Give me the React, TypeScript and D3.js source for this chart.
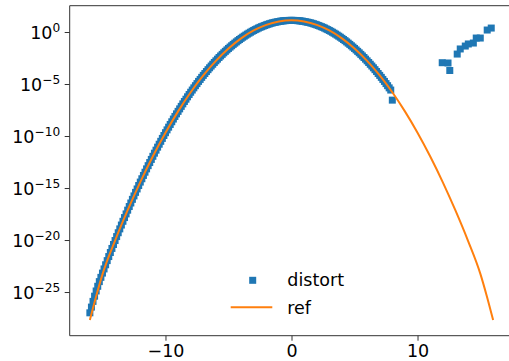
import React, { useEffect, useRef } from 'react';
import * as d3 from 'd3';

// sample positions of the "distort" squares (one row per unit of x), then the stray ones on the right
const distortX = [
  -16, -15.875, -15.75, -15.625, -15.5, -15.375, -15.25, -15.125,
  -15, -14.875, -14.75, -14.625, -14.5, -14.375, -14.25, -14.125,
  -14, -13.875, -13.75, -13.625, -13.5, -13.375, -13.25, -13.125,
  -13, -12.875, -12.75, -12.625, -12.5, -12.375, -12.25, -12.125,
  -12, -11.875, -11.75, -11.625, -11.5, -11.375, -11.25, -11.125,
  -11, -10.875, -10.75, -10.625, -10.5, -10.375, -10.25, -10.125,
  -10, -9.875, -9.75, -9.625, -9.5, -9.375, -9.25, -9.125,
  -9, -8.875, -8.75, -8.625, -8.5, -8.375, -8.25, -8.125,
  -8, -7.875, -7.75, -7.625, -7.5, -7.375, -7.25, -7.125,
  -7, -6.875, -6.75, -6.625, -6.5, -6.375, -6.25, -6.125,
  -6, -5.875, -5.75, -5.625, -5.5, -5.375, -5.25, -5.125,
  -5, -4.875, -4.75, -4.625, -4.5, -4.375, -4.25, -4.125,
  -4, -3.875, -3.75, -3.625, -3.5, -3.375, -3.25, -3.125,
  -3, -2.875, -2.75, -2.625, -2.5, -2.375, -2.25, -2.125,
  -2, -1.875, -1.75, -1.625, -1.5, -1.375, -1.25, -1.125,
  -1, -0.875, -0.75, -0.625, -0.5, -0.375, -0.25, -0.125,
  0, 0.125, 0.25, 0.375, 0.5, 0.625, 0.75, 0.875,
  1, 1.125, 1.25, 1.375, 1.5, 1.625, 1.75, 1.875,
  2, 2.125, 2.25, 2.375, 2.5, 2.625, 2.75, 2.875,
  3, 3.125, 3.25, 3.375, 3.5, 3.625, 3.75, 3.875,
  4, 4.125, 4.25, 4.375, 4.5, 4.625, 4.75, 4.875,
  5, 5.125, 5.25, 5.375, 5.5, 5.625, 5.75, 5.875,
  6, 6.125, 6.25, 6.375, 6.5, 6.625, 6.75, 6.875,
  7, 7.125, 7.25, 7.375, 7.5, 7.625, 7.75, 7.875,
  8, 11.96, 12.42, 12.56, 13.15, 13.39, 13.79, 14.03, 14.43, 14.66, 14.98, 15.53, 15.85
];
// log10 of the values
const distortLog = [
  -27.0, -26.45, -25.9, -25.4, -24.9, -24.45, -24.0, -23.59,
  -23.18, -22.78, -22.38, -21.98, -21.59, -21.2, -20.81, -20.43,
  -20.05, -19.67, -19.3, -18.93, -18.56, -18.2, -17.84, -17.49,
  -17.13, -16.78, -16.44, -16.09, -15.76, -15.42, -15.09, -14.76,
  -14.43, -14.11, -13.79, -13.48, -13.16, -12.85, -12.55, -12.25,
  -11.95, -11.65, -11.36, -11.07, -10.79, -10.51, -10.23, -9.95,
  -9.68, -9.41, -9.15, -8.89, -8.63, -8.37, -8.12, -7.87,
  -7.63, -7.39, -7.15, -6.91, -6.68, -6.46, -6.23, -6.01,
  -5.79, -5.58, -5.37, -5.16, -4.96, -4.75, -4.56, -4.36,
  -4.17, -3.99, -3.8, -3.62, -3.44, -3.27, -3.1, -2.93,
  -2.77, -2.61, -2.45, -2.3, -2.15, -2.0, -1.86, -1.72,
  -1.58, -1.45, -1.32, -1.19, -1.07, -0.95, -0.83, -0.72,
  -0.61, -0.5, -0.4, -0.3, -0.2, -0.11, -0.02, 0.07,
  0.15, 0.23, 0.3, 0.38, 0.45, 0.51, 0.57, 0.63,
  0.69, 0.74, 0.79, 0.84, 0.88, 0.92, 0.95, 0.98,
  1.01, 1.04, 1.06, 1.08, 1.09, 1.11, 1.11, 1.12,
  1.12, 1.12, 1.11, 1.11, 1.09, 1.08, 1.06, 1.04,
  1.01, 0.98, 0.95, 0.92, 0.88, 0.84, 0.79, 0.74,
  0.69, 0.63, 0.57, 0.51, 0.45, 0.38, 0.3, 0.23,
  0.15, 0.07, -0.02, -0.11, -0.2, -0.3, -0.4, -0.5,
  -0.61, -0.72, -0.83, -0.95, -1.07, -1.19, -1.32, -1.45,
  -1.58, -1.72, -1.86, -2.0, -2.15, -2.3, -2.45, -2.61,
  -2.77, -2.93, -3.1, -3.27, -3.44, -3.62, -3.8, -3.99,
  -4.17, -4.36, -4.56, -4.75, -4.96, -5.16, -5.37, -5.58,
  -6.55, -2.95, -2.98, -3.7, -2.12, -1.63, -1.35, -1.15, -1.06, -0.58, -0.58, 0.19, 0.38
];

const refX = [-16, -15.5, -15, -14, -13, -12, -11, -10, -9, -8, -7, -6, -5, -4, -3, -2, -1,
  0, 1, 2, 3, 4, 5, 6, 7, 8, 9, 10, 11, 12, 13, 14, 15, 15.5, 16];
const refLog = [-27.7, -25.4, -23.3, -20.05, -17.13, -14.43, -11.95, -9.68, -7.63, -5.79, -4.17, -2.77, -1.58, -0.61, 0.15, 0.69, 1.01,
  1.12, 1.01, 0.69, 0.15, -0.61, -1.58, -2.77, -4.17, -5.79, -7.63, -9.68, -11.95, -14.43, -17.13, -20.05, -23.3, -25.4, -27.7];

const xTicks = [-10, 0, 10];
const yTickExp = [-25, -20, -15, -10, -5, 0];
const legendLabels = ['distort', 'ref'];

const blue = '#1f77b4';
const orange = '#ff7f0e';
const font = 'DejaVu Sans, sans-serif';

export default function App() {
  const svgRef = useRef<SVGSVGElement>(null);

  useEffect(() => {
    const svg = d3.select(svgRef.current);
    svg.selectAll('*').remove();

    const left = 69.7, top = 5.7, bottom = 335.7, right = 513.3;

    const x = d3.scaleLinear().domain([-17.6, 17.6]).range([left, right]);
    const y = d3.scaleLog().domain([Math.pow(10, -29.2), Math.pow(10, 2.53)]).range([bottom, top]);

    const plot = svg.append('g');

    const line = d3.line<number>()
      .x((d, i) => x(refX[i]))
      .y(d => y(Math.pow(10, d)))
      .curve(d3.curveMonotoneX);

    // distort squares
    const ms = 7;
    plot.selectAll('rect.pt')
      .data(distortLog)
      .enter()
      .append('rect')
      .attr('class', 'pt')
      .attr('x', (d, i) => x(distortX[i]) - ms / 2)
      .attr('y', d => y(Math.pow(10, d)) - ms / 2)
      .attr('width', ms)
      .attr('height', ms)
      .attr('fill', blue);

    // ref line on top
    plot.append('path')
      .datum(refLog)
      .attr('d', line)
      .attr('fill', 'none')
      .attr('stroke', orange)
      .attr('stroke-width', 2);

    // spines (right one falls off the picture)
    svg.append('line').attr('x1', left).attr('x2', left).attr('y1', top).attr('y2', bottom)
      .attr('stroke', '#333').attr('stroke-width', 1);
    svg.append('line').attr('x1', left).attr('x2', right).attr('y1', top).attr('y2', top)
      .attr('stroke', '#333').attr('stroke-width', 1);
    svg.append('line').attr('x1', left).attr('x2', right).attr('y1', bottom).attr('y2', bottom)
      .attr('stroke', '#333').attr('stroke-width', 1);

    // x axis
    const xAxis = svg.append('g')
      .attr('transform', `translate(0,${bottom})`)
      .call(d3.axisBottom(x)
        .tickValues(xTicks)
        .tickSize(5)
        .tickSizeOuter(0)
        .tickPadding(4)
        .tickFormat(d => (+d < 0 ? '\u2212' + Math.abs(+d) : String(d))));
    xAxis.select('.domain').remove();
    xAxis.selectAll('line').attr('stroke', '#333');
    xAxis.selectAll('text')
      .attr('font-family', font)
      .attr('font-size', 17.5)
      .attr('fill', '#000');

    // y axis, labels as 10 with superscript
    const yAxis = svg.append('g')
      .attr('transform', `translate(${left},0)`)
      .call(d3.axisLeft(y)
        .tickValues(yTickExp.map(e => Math.pow(10, e)))
        .tickSize(5)
        .tickSizeOuter(0)
        .tickFormat(() => ''));
    yAxis.select('.domain').remove();
    yAxis.selectAll('line').attr('stroke', '#333');

    const yLab = svg.append('g').selectAll('text')
      .data(yTickExp)
      .enter()
      .append('text')
      .attr('x', left - 9.5)
      .attr('y', e => y(Math.pow(10, e)) + 7.4)
      .attr('text-anchor', 'end')
      .attr('font-family', font)
      .attr('fill', '#000');
    yLab.append('tspan').attr('font-size', 17.5).text('10');
    yLab.append('tspan').attr('font-size', 12.2).attr('dy', -7.5)
      .text(e => (e < 0 ? '\u2212' + Math.abs(e) : String(e)));

    // legend, lower centre, no frame
    const lx = 230.7, ly = 280.3;
    svg.append('rect')
      .attr('x', lx + 22 - ms / 2).attr('y', ly - ms / 2)
      .attr('width', ms).attr('height', ms).attr('fill', blue);
    svg.append('line')
      .attr('x1', lx).attr('x2', lx + 41.6).attr('y1', ly + 27).attr('y2', ly + 27)
      .attr('stroke', orange).attr('stroke-width', 2);
    svg.selectAll('text.leg')
      .data(legendLabels)
      .enter()
      .append('text')
      .attr('class', 'leg')
      .attr('x', lx + 56.6)
      .attr('y', (d, i) => ly + 6 + i * 27.5)
      .attr('font-family', font)
      .attr('font-size', 17.5)
      .attr('fill', '#000')
      .text(d => d);
  }, []);

  return (
    <div style={{ position: 'absolute', left: 0, top: 0 }}>
      <svg ref={svgRef} width={509} height={361} style={{ display: 'block', background: '#fff' }} />
    </div>
  );
}
